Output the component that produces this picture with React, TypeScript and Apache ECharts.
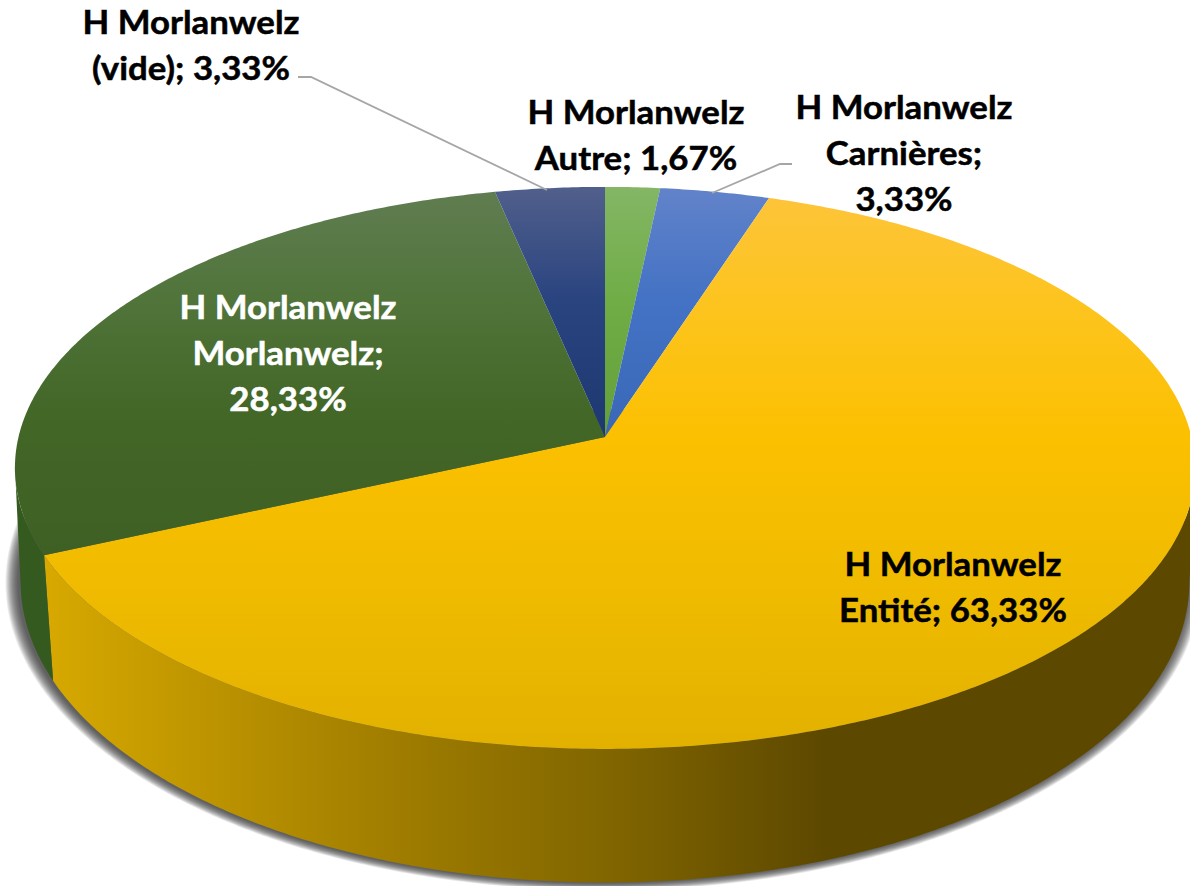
import React, { useEffect, useRef } from "react";
import * as echarts from "echarts";

const sliceNames = ["Autre", "Carnières", "Entité", "Morlanwelz", "(vide)"];
const sliceValues = [1, 2, 38, 17, 2];
const labelTexts = [
  "H Morlanwelz\nAutre; 1,67%",
  "H Morlanwelz\nCarnières;\n3,33%",
  "H Morlanwelz\nEntité; 63,33%",
  "H Morlanwelz\nMorlanwelz;\n28,33%",
  "H Morlanwelz\n(vide); 3,33%",
];
const labelCenters = [[636, 134], [904, 152], [953, 586], [288, 352], [191, 44]];
const labelColors = ["#000000", "#000000", "#000000", "#ffffff", "#000000"];
const topStops = [
  [[0, "#84b665"], [0.2, "#70ad47"], [0.45, "#64a03a"], [1, "#64a03a"]],
  [[0, "#6283ca"], [0.2, "#4472c4"], [0.45, "#3a68b8"], [1, "#3a68b8"]],
  [[0, "#fdc43c"], [0.2, "#fdc420"], [0.45, "#fbc000"], [0.75, "#eeba00"], [1, "#e2b100"]],
  [[0, "#617d52"], [0.2, "#50743a"], [0.4, "#436727"], [0.65, "#3e6024"], [1, "#3e6024"]],
  [[0, "#515f8b"], [0.2, "#2a4480"], [0.45, "#1d3770"], [1, "#1d3770"]],
];
const sideStops = [
  [[0, "#4a7a2c"], [1, "#4a7a2c"]],
  [[0, "#2f5597"], [1, "#2f5597"]],
  [[0, "#d6a800"], [0.25, "#a98400"], [0.5, "#7f6400"], [0.68, "#5d4800"], [1, "#5d4800"]],
  [[0, "#355a1f"], [1, "#355a1f"]],
  [[0, "#1d3770"], [1, "#1d3770"]],
];
const leaderLines = [
  [[298, 77], [311, 77], [547, 190]],
  [[792, 164], [780, 164], [712, 193]],
];

const total = sliceValues.reduce((a, b) => a + b, 0);
const startFractions = sliceValues.map((_, i) =>
  sliceValues.slice(0, i).reduce((a, b) => a + b, 0) / total
);

const topPlane = { x: 605, y: 437, bx: 586.5, ay: 277.6, k: 0.11 };
const bottomPlane = { x: 605, y: 555, bx: 582, ay: 298, k: 0.09 };

function project(p: any, deg: number) {
  const t = (deg * Math.PI) / 180;
  const u = Math.sin(t);
  const v = Math.cos(t);
  const d = 1 + p.k * v;
  return [p.x + (p.bx * u) / d, p.y - (p.ay * v) / d];
}

function arc(p: any, from: number, to: number) {
  const pts: number[][] = [];
  const n = Math.max(2, Math.ceil(Math.abs(to - from) * 2));
  for (let i = 0; i <= n; i++) pts.push(project(p, from + ((to - from) * i) / n));
  return pts;
}

function grad(x: number, y: number, x2: number, y2: number, stops: any[]) {
  return new echarts.graphic.LinearGradient(
    x, y, x2, y2,
    stops.map(([offset, color]: any) => ({ offset, color })),
    true
  );
}

function sliceRange(i: number) {
  const from = startFractions[i] * 360;
  return [from, from + (sliceValues[i] / total) * 360];
}

function renderSide(params: any) {
  const i = params.dataIndex;
  const [a, b] = sliceRange(i);
  const from = Math.max(a, 96);
  const to = Math.min(b, 264);
  if (to <= from) return { type: "group", children: [] };
  const pts = [...arc(topPlane, from, to), ...arc(bottomPlane, to, from)];
  return {
    type: "polygon",
    shape: { points: pts },
    style: { fill: grad(50, 0, 1190, 0, sideStops[i]) },
  };
}

function renderTop(params: any) {
  const i = params.dataIndex;
  const [a, b] = sliceRange(i);
  const pts = [[topPlane.x, topPlane.y], ...arc(topPlane, a, b)];
  return {
    type: "polygon",
    shape: { points: pts },
    style: { fill: grad(0, 187, 0, 749, topStops[i]) },
  };
}

function renderLabel(params: any) {
  const i = params.dataIndex;
  return {
    type: "text",
    x: labelCenters[i][0],
    y: labelCenters[i][1],
    scaleX: 1.07,
    style: {
      text: labelTexts[i],
      x: 0,
      y: 0,
      align: "center",
      verticalAlign: "middle",
      fontFamily: "Lato",
      fontWeight: "bold",
      fontSize: 32.5,
      lineHeight: 46,
      fill: labelColors[i],
      stroke: labelColors[i],
      lineWidth: 0.5,
    },
  };
}

function renderShadow() {
  const layers: any[] = [];
  for (let r = 13; r >= 1; r--) {
    const plane = {
      ...bottomPlane,
      x: bottomPlane.x - 2,
      bx: bottomPlane.bx + r,
      ay: bottomPlane.ay + r * 0.55,
    };
    layers.push({
      type: "polygon",
      shape: { points: arc(plane, 60, 300) },
      style: { fill: "rgba(50,50,50,0.1)" },
    });
  }
  return { type: "group", children: layers };
}

export default function App() {
  const ref = useRef<HTMLDivElement>(null);
  useEffect(() => {
    const chart = echarts.init(ref.current!, undefined, { renderer: "svg" });
    const data = sliceValues.map((value, i) => ({ name: sliceNames[i], value }));
    chart.setOption({
      animation: false,
      backgroundColor: "#ffffff",
      series: [
        { type: "custom", coordinateSystem: "none", z: 1, data: [1], renderItem: renderShadow, silent: true },
        { type: "custom", coordinateSystem: "none", z: 2, data, renderItem: renderSide, silent: true },
        { type: "custom", coordinateSystem: "none", z: 3, data, renderItem: renderTop, silent: true },
        { type: "custom", coordinateSystem: "none", z: 5, data, renderItem: renderLabel, silent: true },
      ],
      graphic: leaderLines.map((points) => ({
        type: "polyline",
        z: 4,
        shape: { points },
        style: { stroke: "#a6a6a6", lineWidth: 1.8, fill: "none" },
      })),
    });
    return () => chart.dispose();
  }, []);
  return <div ref={ref} style={{ position: "fixed", left: 0, top: 0, width: 1190, height: 886 }} />;
}
